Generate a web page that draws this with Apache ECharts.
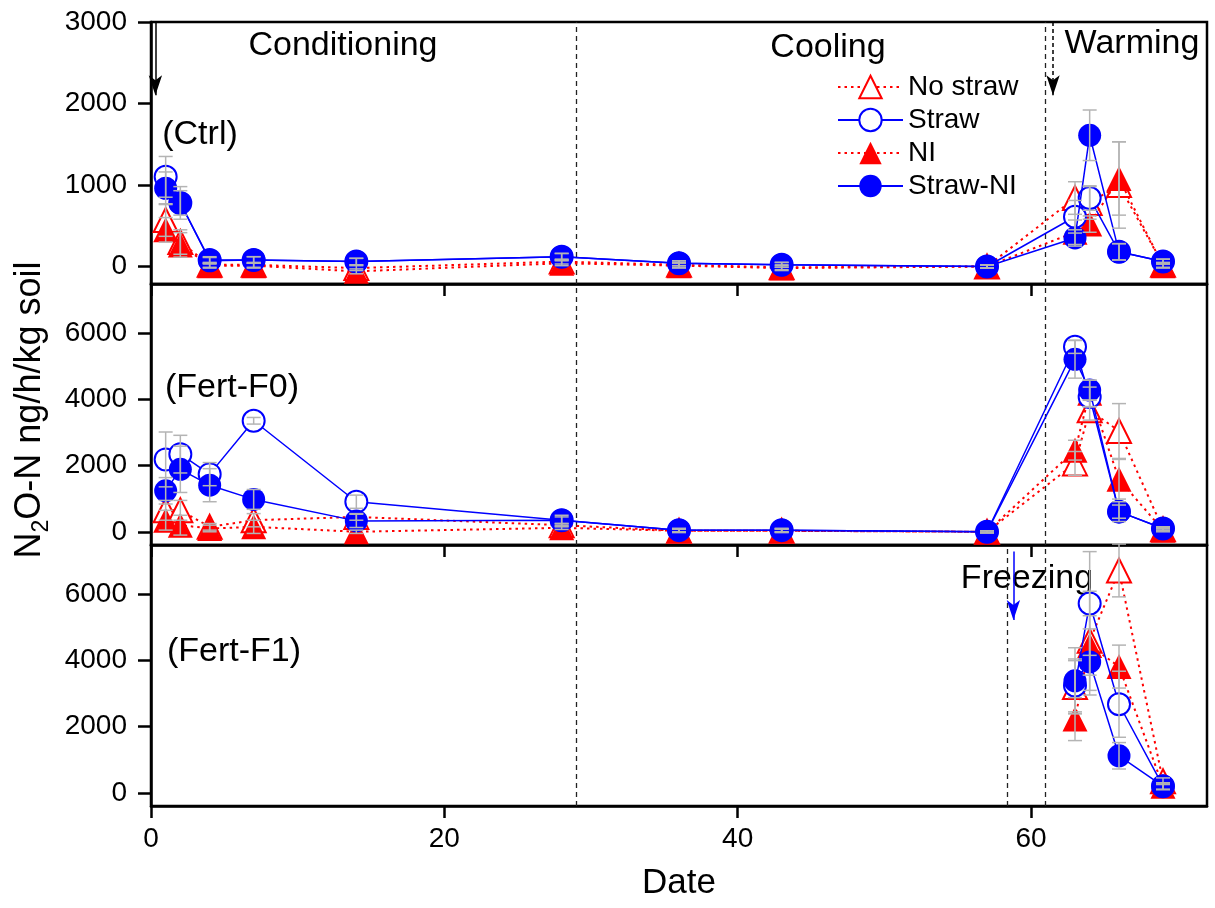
<!DOCTYPE html>
<html><head><meta charset="utf-8">
<script src="https://cdn.jsdelivr.net/npm/echarts@6/dist/echarts.min.js"></script>
<style>html,body{margin:0;padding:0;background:#fff}#c{width:1215px;height:908px}</style>
</head><body><div id="c"></div>
<script>
// ---- data ----
const days = [1, 2, 4, 7, 14, 28, 36, 43, 57, 63, 64, 66, 69];
const daysF1 = [63, 64, 66, 69];
const xTicks = [0, 20, 40, 60];
const yTicksCtrl = [0, 1000, 2000, 3000];
const yTicksFert = [0, 2000, 4000, 6000];
const seriesNames = ['No straw', 'Straw', 'NI', 'Straw-NI'];

// Ctrl
const noStrawCtrl = [570, 300, 20, 20, -20, 60, 20, -10, 0, 840, 780, 1000, 20];
const strawCtrl   = [1100, 780, 80, 80, 60, 120, 40, 20, 0, 610, 840, 180, 60];
const niCtrl      = [450, 265, 10, 10, -60, 40, 10, -20, 0, 420, 520, 1080, 10];
const strawNiCtrl = [960, 780, 70, 80, 60, 120, 40, 20, 0, 350, 1610, 180, 60];
const errNoStrawCtrl = [200, 150, 30, 30, 30, 30, 30, 30, 20, 200, 200, 530, 30];
const errStrawCtrl   = [250, 200, 40, 40, 40, 40, 30, 30, 20, 200, 150, 100, 30];
const errNiCtrl      = [150, 150, 30, 30, 30, 30, 30, 30, 20, 150, 100, 450, 30];
const errStrawNiCtrl = [200, 150, 40, 40, 40, 40, 30, 30, 20, 100, 310, 100, 30];

// Fert-F0
const noStrawF0 = [650, 650, 150, 350, 450, 200, 30, 30, 0, 2070, 3680, 3050, 80];
const strawF0   = [2190, 2350, 1745, 3360, 910, 350, 50, 50, 0, 5600, 4080, 610, 100];
const niF0      = [350, 200, 100, 150, 0, 120, 30, 30, 0, 2470, 4190, 1590, 50];
const strawNiF0 = [1240, 1890, 1410, 980, 330, 350, 50, 50, 0, 5220, 4290, 610, 100];
const errNoStrawF0 = [300, 300, 100, 200, 100, 50, 50, 50, 30, 360, 300, 830, 50];
const errStrawF0   = [830, 570, 350, 100, 200, 100, 50, 50, 30, 200, 300, 200, 50];
const errNiF0      = [300, 300, 100, 200, 50, 50, 50, 50, 30, 300, 400, 600, 50];
const errStrawNiF0 = [400, 700, 500, 300, 200, 150, 50, 50, 30, 570, 300, 300, 50];

// Fert-F1
const noStrawF1 = [3200, 4600, 6730, 350];
const strawF1   = [3250, 5730, 2680, 200];
const niF1      = [2230, 4460, 3820, 200];
const strawNiF1 = [3390, 3960, 1120, 200];
const errNoStrawF1 = [800, 1500, 800, 100];
const errStrawF1   = [800, 1570, 1000, 100];
const errNiF1      = [650, 900, 650, 100];
const errStrawNiF1 = [1000, 1000, 400, 100];

// phase markers (days)
const phaseLines = [29, 61];
const freezeLine = 58.4;
const arrowStart = 0.3, arrowWarm = 61.5, arrowFreeze = 58.8;

// ---- chart ----
const FONT = '"Liberation Sans", Arial, Helvetica, sans-serif';
const RED = '#ff0000', BLUE = '#0000ff', GREY = '#b4b4b4';

const panels = [
  {x: days, ns: noStrawCtrl, st: strawCtrl, ni: niCtrl, sn: strawNiCtrl,
   ens: errNoStrawCtrl, est: errStrawCtrl, eni: errNiCtrl, esn: errStrawNiCtrl,
   min: -215, max: 3000, ticks: yTicksCtrl, top: 22, height: 262},
  {x: days, ns: noStrawF0, st: strawF0, ni: niF0, sn: strawNiF0,
   ens: errNoStrawF0, est: errStrawF0, eni: errNiF0, esn: errStrawNiF0,
   min: -400, max: 7500, ticks: yTicksFert, top: 284, height: 261},
  {x: daysF1, ns: noStrawF1, st: strawF1, ni: niF1, sn: strawNiF1,
   ens: errNoStrawF1, est: errStrawF1, eni: errNiF1, esn: errStrawNiF1,
   min: -400, max: 7500, ticks: yTicksFert, top: 545, height: 261}
];

const defs = [
  {name: 'No straw', key: 'ns', ekey: 'ens', symbol: 'emptyTriangle', color: RED, dotted: true, size: 24},
  {name: 'NI', key: 'ni', ekey: 'eni', symbol: 'triangle', color: RED, dotted: true, size: 25},
  {name: 'Straw', key: 'st', ekey: 'est', symbol: 'emptyCircle', color: BLUE, dotted: false, size: 22},
  {name: 'Straw-NI', key: 'sn', ekey: 'esn', symbol: 'circle', color: BLUE, dotted: false, size: 23}
];

const grids = [], xAxes = [], yAxes = [], series = [];

function errRender(params, api) {
  const x = api.value(0), y = api.value(1), e = api.value(2);
  const t = api.coord([x, y + e]), b = api.coord([x, y - e]);
  const w = 7;
  const st = {stroke: GREY, lineWidth: 1.5};
  return {type: 'group', children: [
    {type: 'line', shape: {x1: t[0], y1: t[1], x2: b[0], y2: b[1]}, style: st},
    {type: 'line', shape: {x1: t[0] - w, y1: t[1], x2: t[0] + w, y2: t[1]}, style: st},
    {type: 'line', shape: {x1: b[0] - w, y1: b[1], x2: b[0] + w, y2: b[1]}, style: st}
  ]};
}

const vDash = {color: '#222', type: [5, 4], width: 1.3};
const plain = v => String(v);

panels.forEach((p, gi) => {
  grids.push({left: 151, right: 8, top: p.top, height: p.height, show: true,
    borderColor: '#000', borderWidth: 2.5, backgroundColor: 'transparent'});
  const isLast = gi === panels.length - 1;
  xAxes.push({type: 'value', gridIndex: gi, min: 0, max: 72, interval: 20,
    name: isLast ? 'Date' : '', nameLocation: 'middle', nameGap: 60,
    nameTextStyle: {fontFamily: FONT, fontSize: 35, color: '#000'},
    axisLine: {show: true, onZero: false, lineStyle: {color: '#000', width: 2.5}},
    axisTick: {show: true, inside: false, length: 12, lineStyle: {color: '#000', width: 2.5}, customValues: xTicks},
    axisLabel: {show: isLast, margin: 19, fontFamily: FONT, fontSize: 28, color: '#000', customValues: xTicks, formatter: plain},
    splitLine: {show: false}});
  yAxes.push({type: 'value', gridIndex: gi, min: p.min, max: p.max,
    axisLine: {show: true, onZero: false, lineStyle: {color: '#000', width: 2.5}},
    axisTick: {show: true, inside: false, length: 13, lineStyle: {color: '#000', width: 2.5}, customValues: p.ticks},
    axisLabel: {show: true, margin: 24, fontFamily: FONT, fontSize: 28, color: '#000', customValues: p.ticks, formatter: plain},
    splitLine: {show: false}});

  defs.forEach((d, di) => {
    const s = {
      type: 'line', name: d.name, xAxisIndex: gi, yAxisIndex: gi,
      data: p.x.map((x, i) => [x, p[d.key][i]]),
      symbol: d.symbol, symbolSize: d.size, showAllSymbol: true,
      itemStyle: {color: d.color, borderWidth: 2.5},
      lineStyle: {color: d.color, width: d.dotted ? 2 : 1.5, type: d.dotted ? [2.5, 4] : 'solid'},
      z: 3 + di, animation: false, silent: true, emphasis: {disabled: true}
    };
    if (di === 0) {
      const ml = [];
      phaseLines.forEach(v => ml.push({xAxis: v, lineStyle: vDash}));
      if (gi === 2) ml.push({xAxis: freezeLine, lineStyle: vDash});
      if (gi === 0) {
        ml.push([{coord: [arrowStart, p.max], symbol: 'none', lineStyle: {color: '#000', width: 1.5, type: 'solid'}},
                 {coord: [arrowStart, 2100], symbol: 'arrow', lineStyle: {color: '#000', width: 1.5, type: 'solid'}}]);
        ml.push([{coord: [arrowWarm, p.max], symbol: 'none', lineStyle: {color: '#000', width: 1.5, type: [4, 3]}},
                 {coord: [arrowWarm, 2100], symbol: 'arrow', lineStyle: {color: '#000', width: 1.5, type: [4, 3]}}]);
      }
      if (gi === 2) {
        ml.push([{coord: [arrowFreeze, 7300], symbol: 'none', lineStyle: {color: BLUE, width: 1.5, type: 'solid'}},
                 {coord: [arrowFreeze, 5230], symbol: 'arrow', lineStyle: {color: BLUE, width: 1.5, type: 'solid'}}]);
      }
      s.markLine = {silent: true, symbol: ['none', 'none'], symbolSize: [10, 20], label: {show: false},
        animation: false, data: ml, z: 2};
    }
    series.push(s);
  });
  defs.forEach(d => {
    series.push({type: 'custom', name: d.name, xAxisIndex: gi, yAxisIndex: gi,
      data: p.x.map((x, i) => [x, p[d.key][i], p[d.ekey][i]]),
      encode: {x: 0, y: 1}, renderItem: errRender, z: 10, silent: true, animation: false});
  });
});

const txt = (t, x, y, size) => ({type: 'text', x: x, y: y, silent: true,
  style: {text: t, fill: '#000', font: size + 'px ' + FONT, align: 'center', verticalAlign: 'middle'}});

const option = {
  backgroundColor: '#fff',
  animation: false,
  grid: grids, xAxis: xAxes, yAxis: yAxes, series: series,
  legend: {data: seriesNames, orient: 'vertical', left: 832, top: 68, itemWidth: 65, itemHeight: 28, itemGap: 5,
    textStyle: {fontFamily: FONT, fontSize: 28, color: '#000'}, selectedMode: false},
  graphic: [
    txt('Conditioning', 343, 46, 34),
    txt('Cooling', 828, 48, 34),
    txt('Warming', 1132, 44, 34),
    txt('(Ctrl)', 200, 135, 34),
    txt('(Fert-F0)', 232, 388, 34),
    txt('(Fert-F1)', 234, 652, 34),
    txt('Freezing', 1027, 579, 34),
    {type: 'text', x: 30, y: 410, rotation: Math.PI / 2, silent: true,
      style: {text: 'N{sub|2}O-N ng/h/kg soil', fill: '#000', font: '36px ' + FONT, align: 'center', verticalAlign: 'middle',
        rich: {sub: {fontSize: 23, fontFamily: FONT, fill: '#000', verticalAlign: 'bottom', lineHeight: 46}}}}
  ]
};
const chart = echarts.init(document.getElementById('c'), null, {renderer: 'canvas'});
chart.setOption(option);
</script></body></html>
